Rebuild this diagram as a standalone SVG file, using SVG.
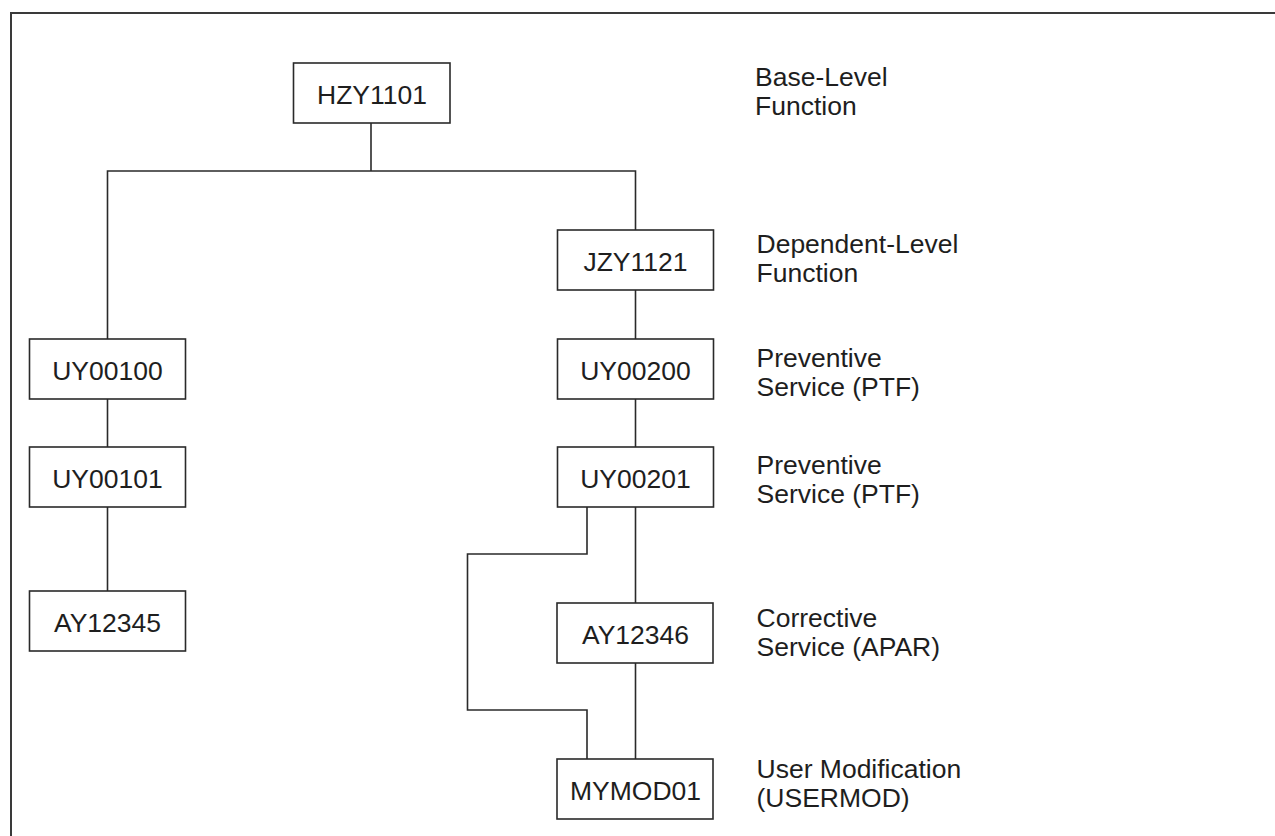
<svg xmlns="http://www.w3.org/2000/svg" width="1275" height="836" viewBox="0 0 1275 836">
<style>
.box{fill:#fff;stroke:#2a2a2a;stroke-width:1.6}
.t{font-family:"Liberation Sans",Arial,sans-serif;font-size:26.5px;fill:#1e1e1e}
.c{text-anchor:middle}
.ln{fill:none;stroke:#2a2a2a;stroke-width:1.6}
.fr{fill:none;stroke:#3a3a3a;stroke-width:2}
</style>
<rect width="1275" height="836" fill="#fff"/>
<path class="fr" d="M11,836 V13 H1275"/>
<g id="connectors">
<path class="ln" d="M371,123 V171"/>
<path class="ln" d="M107.5,339 V171 H635.5 V230"/>
<path class="ln" d="M635.5,290 V339"/>
<path class="ln" d="M635.5,399 V447"/>
<path class="ln" d="M635.5,507 V603"/>
<path class="ln" d="M635.5,663 V759"/>
<path class="ln" d="M587,507 V554 H467.5 V710 H587 V759"/>
<path class="ln" d="M107.5,399 V447"/>
<path class="ln" d="M107.5,507 V591"/>
</g>
<g id="HZY1101"><rect class="box" x="293.5" y="63" width="156.5" height="60"/><text class="t c" x="372" y="103.5">HZY1101</text></g>
<g id="JZY1121"><rect class="box" x="557.5" y="230" width="156" height="60"/><text class="t c" x="635.5" y="270.5">JZY1121</text></g>
<g id="UY00200"><rect class="box" x="557.5" y="339" width="156" height="60"/><text class="t c" x="635.5" y="379.5">UY00200</text></g>
<g id="UY00201"><rect class="box" x="557.5" y="447" width="156" height="60"/><text class="t c" x="635.5" y="487.5">UY00201</text></g>
<g id="AY12346"><rect class="box" x="557" y="603" width="156" height="60"/><text class="t c" x="635.5" y="643.5">AY12346</text></g>
<g id="MYMOD01"><rect class="box" x="557" y="759" width="156" height="60"/><text class="t c" x="635.5" y="799.5">MYMOD01</text></g>
<g id="UY00100"><rect class="box" x="29.5" y="339" width="156" height="60"/><text class="t c" x="107.5" y="379.5">UY00100</text></g>
<g id="UY00101"><rect class="box" x="29.5" y="447" width="156" height="60"/><text class="t c" x="107.5" y="487.5">UY00101</text></g>
<g id="AY12345"><rect class="box" x="29.5" y="591" width="156" height="60"/><text class="t c" x="107.5" y="631.5">AY12345</text></g>
<g id="labels">
<text class="t" x="755" y="86">Base-Level<tspan x="755" dy="29">Function</tspan></text>
<text class="t" x="756.5" y="253">Dependent-Level<tspan x="756.5" dy="29">Function</tspan></text>
<text class="t" x="756.5" y="366.5">Preventive<tspan x="756.5" dy="29">Service (PTF)</tspan></text>
<text class="t" x="756.5" y="473.5">Preventive<tspan x="756.5" dy="29">Service (PTF)</tspan></text>
<text class="t" x="756.5" y="626.5">Corrective<tspan x="756.5" dy="29">Service (APAR)</tspan></text>
<text class="t" x="756.5" y="778">User Modification<tspan x="756.5" dy="29">(USERMOD)</tspan></text>
</g>
</svg>
